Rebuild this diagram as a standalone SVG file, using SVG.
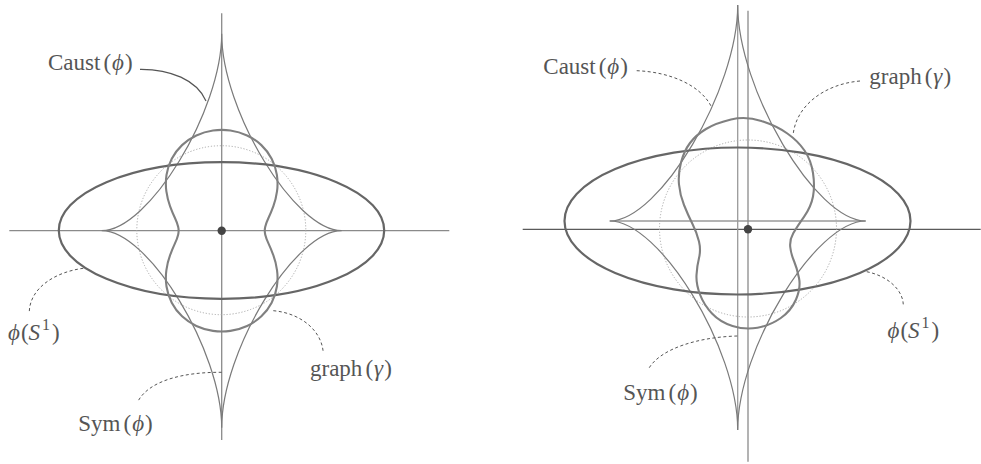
<svg xmlns="http://www.w3.org/2000/svg" width="981" height="464" viewBox="0 0 981 464">
<style>
.axis{stroke:#8a8a8a;stroke-width:1.3;fill:none}
.axisd{stroke:#5a5a5a;stroke-width:1.3;fill:none}
.sym{stroke:#9a9a9a;stroke-width:1.3;fill:none}
.caust{stroke:#7a7a7a;stroke-width:1.2;fill:none}
.ell{stroke:#666;stroke-width:2.2;fill:none}
.graph{stroke:#808080;stroke-width:2.1;fill:none}
.dot{stroke:#aaa;stroke-width:1;stroke-dasharray:1.2 1.8;fill:none}
.lead{stroke:#555;stroke-width:1;stroke-dasharray:3 2.5;fill:none}
.leads{stroke:#555;stroke-width:1.2;fill:none}
.lbl{font-family:"Liberation Serif","DejaVu Serif",serif;font-size:23px;fill:#555}
.it{font-style:italic}
.sup{font-size:16px}
</style>
<rect width="981" height="464" fill="#fff"/>
<g id="left-figure">
<line class="axis" x1="9.3" y1="230.7" x2="449.3" y2="230.7"/>
<line class="axis" x1="221.7" y1="13.3" x2="221.7" y2="440"/>
<circle class="dot" cx="221.3" cy="230.2" r="84.5"/>
<path class="caust" d="M341.7,230.7 C294.84,230.7 221.7,110.63 221.7,33.7 C221.7,110.63 148.56,230.7 101.7,230.7 C148.56,230.7 221.7,350.77 221.7,427.7 C221.7,350.77 294.84,230.7 341.7,230.7 Z"/>
<ellipse class="ell" cx="221.5" cy="230.5" rx="162.7" ry="68.3"/>
<path class="graph" d="M265.25,234.63 Q264.3,230.7 265.25,226.78 Q266.2,222.85 268.56,217.82 Q270.91,212.79 273.39,206.11 Q275.87,199.42 277.01,191.38 Q278.15,183.33 276.89,174.89 Q275.63,166.44 271.66,158.76 Q267.68,151.07 261.35,145.12 Q255.01,139.16 247.08,135.47 Q239.14,131.78 230.42,130.54 Q221.7,129.3 212.98,130.54 Q204.26,131.78 196.33,135.47 Q188.39,139.16 182.06,145.12 Q175.72,151.07 171.75,158.76 Q167.77,166.44 166.51,174.89 Q165.25,183.33 166.39,191.38 Q167.53,199.42 170.01,206.11 Q172.49,212.79 174.85,217.82 Q177.2,222.85 178.15,226.78 Q179.1,230.7 178.15,234.63 Q177.2,238.55 174.85,243.58 Q172.49,248.61 170.01,255.3 Q167.53,261.98 166.39,270.03 Q165.25,278.07 166.51,286.52 Q167.77,294.96 171.75,302.65 Q175.72,310.33 182.06,316.29 Q188.39,322.24 196.33,325.93 Q204.26,329.62 212.98,330.86 Q221.7,332.1 230.42,330.86 Q239.14,329.62 247.08,325.93 Q255.01,322.24 261.35,316.29 Q267.68,310.33 271.66,302.65 Q275.63,294.96 276.89,286.52 Q278.15,278.07 277.01,270.03 Q275.87,261.98 273.39,255.3 Q270.91,248.61 268.56,243.58 Q266.2,238.55 265.25,234.63 Z"/>
<circle cx="221.7" cy="230.7" r="4.2" fill="#444"/>
</g>
<g id="right-figure">
<line class="axisd" x1="522.7" y1="229.3" x2="980.7" y2="229.3"/>
<line class="sym" x1="609.7" y1="221" x2="865.7" y2="221"/>
<line class="sym" x1="737.7" y1="5" x2="737.7" y2="430"/>
<line class="axis" x1="748" y1="10.7" x2="748" y2="461.7"/>
<circle class="dot" cx="748" cy="228.5" r="88.5"/>
<path class="caust" d="M865.7,221 C815.72,221 737.7,89.35 737.7,5 C737.7,89.35 659.68,221 609.7,221 C659.68,221 737.7,348.39 737.7,430 C737.7,348.39 815.72,221 865.7,221 Z"/>
<ellipse class="ell" cx="737.5" cy="221" rx="173" ry="73.5"/>
<path class="graph" d="M731,119.5 Q746,116 761.35,121 Q776.7,126 787.35,133.5 Q798,141 804.5,150.5 Q811,160 813,173 Q815,186 813,196.5 Q811,207 804,216.85 Q797,226.7 793.25,233.35 Q789.5,240 790.25,247 Q791,254 794,261 Q797,268 799,278 Q801,288 796,299.5 Q791,311 780.5,318.25 Q770,325.5 757.5,327.75 Q745,330 732.5,326 Q720,322 712,313.5 Q704,305 700,294.5 Q696,284 696.5,275 Q697,266 699,258 Q701,250 699,241.5 Q697,233 692.5,224 Q688,215 684,205 Q680,195 679,184.5 Q678,174 681,162.5 Q684,151 690,143 Q696,135 706,129 Q716,123 731,119.5 Z"/>
<circle cx="748" cy="229.3" r="4.2" fill="#444"/>
</g>
<g id="connectors">
<path class="leads" d="M140,69.3 C170,69 197,80 206,101"/>
<path class="lead" d="M83.3,268.3 C55,272 30,288 29.3,311.7"/>
<path class="lead" d="M273.3,310.7 C300,313 322,330 323.3,353.3"/>
<path class="lead" d="M221.7,372.3 C185,372 150,380 138.3,400.7"/>
<path class="lead" d="M636.7,70.7 C670,72 700,85 711,106"/>
<path class="lead" d="M860,81 C825,84 797,105 793.3,133.3"/>
<path class="lead" d="M866.7,271.7 C888,276 903,290 903.3,305"/>
<path class="lead" d="M737.3,336 C700,337 660,348 648.3,369.3"/>
</g>
<g id="label-caust-left"><text class="lbl" x="48" y="70">Caust<tspan dx="3">(</tspan><tspan class="it" dx="1">ϕ</tspan><tspan dx="1">)</tspan></text></g>
<g id="label-phiS1-left"><text class="lbl" x="8" y="340"><tspan class="it">ϕ</tspan><tspan dx="1">(</tspan><tspan class="it">S</tspan><tspan class="sup" dx="2" dy="-10">1</tspan><tspan dx="2" dy="10">)</tspan></text></g>
<g id="label-graph-left"><text class="lbl" x="310" y="376">graph<tspan dx="3">(</tspan><tspan class="it" dx="1">γ</tspan><tspan dx="1">)</tspan></text></g>
<g id="label-sym-left"><text class="lbl" x="78.3" y="430.7">Sym<tspan dx="3">(</tspan><tspan class="it" dx="1">ϕ</tspan><tspan dx="1">)</tspan></text></g>
<g id="label-caust-right"><text class="lbl" x="543.3" y="74.3">Caust<tspan dx="3">(</tspan><tspan class="it" dx="1">ϕ</tspan><tspan dx="1">)</tspan></text></g>
<g id="label-graph-right"><text class="lbl" x="869.3" y="84">graph<tspan dx="3">(</tspan><tspan class="it" dx="1">γ</tspan><tspan dx="1">)</tspan></text></g>
<g id="label-sym-right"><text class="lbl" x="623.3" y="400">Sym<tspan dx="3">(</tspan><tspan class="it" dx="1">ϕ</tspan><tspan dx="1">)</tspan></text></g>
<g id="label-phiS1-right"><text class="lbl" x="887.5" y="338.3"><tspan class="it">ϕ</tspan><tspan dx="1">(</tspan><tspan class="it">S</tspan><tspan class="sup" dx="2" dy="-10">1</tspan><tspan dx="2" dy="10">)</tspan></text></g>
</svg>
